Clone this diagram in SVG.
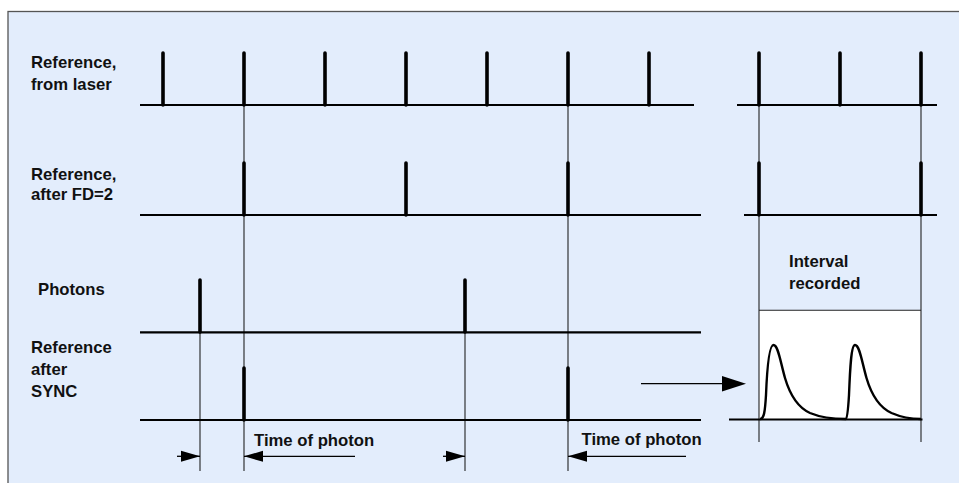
<svg xmlns="http://www.w3.org/2000/svg" width="959" height="483" viewBox="0 0 959 483">
<defs>
<style>
.lbl{font-family:"Liberation Sans",Arial,sans-serif;font-weight:bold;font-size:16.7px;fill:#111}
.base{stroke:#000;stroke-width:2.2;fill:none}
.tick{stroke:#000;stroke-width:3.6;stroke-linecap:round;fill:none}
.thin{stroke:#222;stroke-width:1.1;fill:none}
.arr{stroke:#000;stroke-width:1.3;fill:none}
.curve{stroke:#000;stroke-width:2.4;fill:none;stroke-linejoin:round}
</style>
</defs>
<rect x="8" y="11.5" width="960" height="480" fill="#E3EDFC" stroke="#555" stroke-width="1.3"/>

<g id="labels">
<text class="lbl" x="31" y="68">Reference,</text>
<text class="lbl" x="31" y="90">from laser</text>
<text class="lbl" x="31" y="180">Reference,</text>
<text class="lbl" x="31" y="200">after FD=2</text>
<text class="lbl" x="38" y="295">Photons</text>
<text class="lbl" x="31" y="353">Reference</text>
<text class="lbl" x="31" y="375">after</text>
<text class="lbl" x="31" y="397">SYNC</text>
<text class="lbl" x="789" y="267">Interval</text>
<text class="lbl" x="789" y="288.5">recorded</text>
<text class="lbl" x="254" y="446">Time of photon</text>
<text class="lbl" x="581.5" y="445">Time of photon</text>
</g>

<g id="histogram">
<rect x="759" y="310.3" width="162" height="109" fill="#fff"/>
<line class="thin" x1="759" y1="310.3" x2="921" y2="310.3"/>
<path class="curve" d="M760,419 C764,419 765,412 766,395 C767,370 769,345 773.5,345 C778,345 780,360 785,378 C790,395 797,407 810,413 C822,418 835,419 846,419 C847,419 848,412 849,395 C850,370 851,345 855,345 C859.5,345 861.5,360 866.5,378 C871.5,395 878.5,407 891.5,413 C903,418 912,419 921,419"/>
</g>

<g id="connectors">
<line class="thin" x1="244" y1="105" x2="244" y2="471"/>
<line class="thin" x1="568" y1="105" x2="568" y2="471"/>
<line class="thin" x1="200" y1="332" x2="200" y2="471"/>
<line class="thin" x1="465" y1="332" x2="465" y2="471"/>
<line class="thin" x1="759" y1="105" x2="759" y2="442"/>
<line class="thin" x1="921" y1="105" x2="921" y2="442"/>
<line class="arr" x1="177" y1="456.3" x2="200" y2="456.3"/>
<polygon points="200,456.3 181,450.8 181,461.8" fill="#000"/>
<line class="arr" x1="244" y1="456.3" x2="355" y2="456.3"/>
<polygon points="244,456.3 263,450.8 263,461.8" fill="#000"/>
<line class="arr" x1="443" y1="456.3" x2="465" y2="456.3"/>
<polygon points="465,456.3 446,450.8 446,461.8" fill="#000"/>
<line class="arr" x1="568" y1="456.3" x2="686" y2="456.3"/>
<polygon points="568,456.3 587,450.8 587,461.8" fill="#000"/>
<line class="arr" x1="641" y1="383.7" x2="726" y2="383.7"/>
<polygon points="746,383.7 722,376 722,391.4" fill="#000"/>
</g>

<g id="row-laser">
<line class="base" x1="140" y1="105" x2="694" y2="105"/>
<line class="base" x1="737" y1="105" x2="937" y2="105"/>
<path class="tick" d="M163,53V105M244,53V105M325,53V105M406,53V105M487,53V105M568,53V105M649,53V105M759,53V105M840,53V105M921,53V105"/>
</g>

<g id="row-fd2">
<line class="base" x1="140" y1="215" x2="701" y2="215"/>
<line class="base" x1="744" y1="215" x2="937" y2="215"/>
<path class="tick" d="M244,163V215M406,163V215M568,163V215M759,163V215M921,163V215"/>
</g>

<g id="row-photons">
<line class="base" x1="140" y1="332.3" x2="701" y2="332.3"/>
<path class="tick" d="M200,280V332M465,280V332"/>
</g>

<g id="row-sync">
<line class="base" x1="140" y1="420" x2="701" y2="420"/>
<line class="base" x1="729" y1="419.5" x2="922.5" y2="419.5"/>
<path class="tick" d="M244,368V420M568,368V420"/>
</g>
</svg>
